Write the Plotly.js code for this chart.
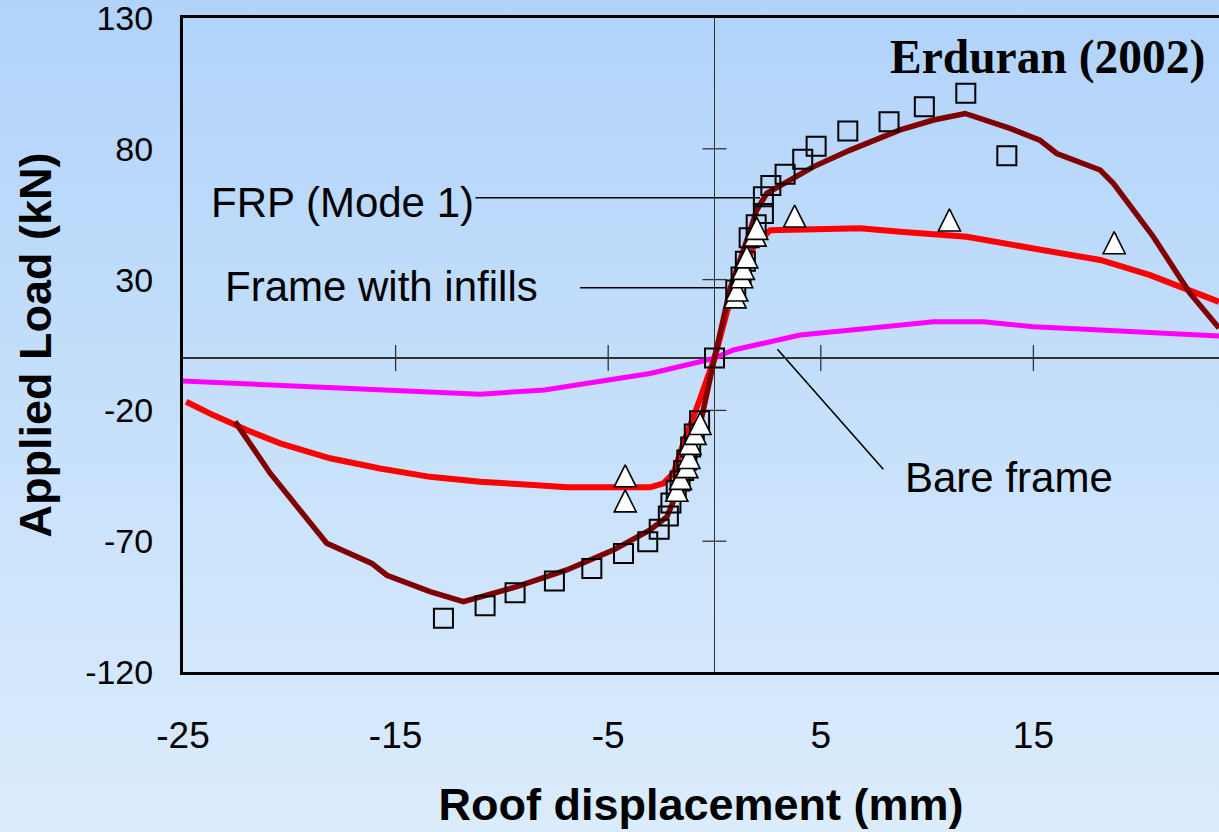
<!DOCTYPE html>
<html><head><meta charset="utf-8">
<script src="https://cdn.plot.ly/plotly-3.0.1.min.js"></script>
<style>
html,body{margin:0;padding:0;width:1219px;height:832px;overflow:hidden;
background:linear-gradient(to bottom,#b1d3fa 0%,#c6e0fb 50%,#dbecfc 100%);}
#chart{width:1219px;height:832px;}
</style></head><body><div id="chart"></div>
<script>
// FRP (Mode 1) analytical curve
const frpX = [-22.55, -20.9, -18.24, -16.12, -15.41, -13.38, -11.81, -9.3, -6.95, -4.76, -3.03, -2.24, -1.46, -0.6, 0, 0.75, 1.52, 1.99, 2.46, 3.4, 4.64, 6.38, 8.73, 10.3, 11.79, 13.9, 15.3, 16.1, 18.14, 18.76, 20.64, 22.37, 23.73];
const frpY = [-24.3, -44, -70.8, -78.5, -83, -89.3, -93.1, -87.4, -81, -73.4, -65.7, -60.7, -45.4, -22.6, 0, 27, 45, 56.6, 63, 67.4, 73.1, 79.5, 87.2, 91, 93.5, 87.8, 83.3, 78.2, 71.9, 66.8, 46.4, 24.7, 11.5];
// Frame with infills analytical curve
const infX = [-24.85, -23.58, -22, -20.43, -18.08, -15.73, -13.38, -11.03, -8.52, -6.95, -3.03, -2.4, -1.93, -1.46, -0.7, 0, 0.73, 1.83, 2.62, 4.97, 6.85, 8.73, 11.87, 15, 18.14, 20.49, 22.06, 23.73];
const infY = [-16.7, -21.8, -27.5, -32.6, -38.3, -42.2, -45.4, -47.3, -48.5, -49.4, -49.4, -47.9, -44, -32.6, -16, 0, 22, 42.5, 48.9, 49.2, 49.6, 48.3, 46.4, 41.9, 37.5, 31.7, 26.6, 21.5];
// Bare frame analytical curve
const bareX = [-25, -20.43, -15.73, -11.03, -8, -5.38, -3.03, -0.68, 0, 0.89, 1.67, 4.03, 7.16, 9.67, 10.3, 12.65, 15, 18.14, 21.27, 23.73];
const bareY = [-8.8, -10.3, -12.2, -13.8, -12.2, -9, -5.9, -1.4, 0, 3.1, 4.5, 8.8, 11.3, 13.0, 13.9, 13.9, 12, 10.7, 9.2, 8.4];
// Experimental points - FRP (squares)
const sqX = [-12.75, -10.79, -9.38, -7.53, -5.77, -4.28, -3.14, -2.6, -2.17, -2.05, -1.8, -1.62, -1.45, -1.3, -1.12, -0.95, -0.7, 0, 1.0, 1.25, 1.45, 1.63, 1.96, 2.3, 2.3, 2.65, 3.32, 4.15, 4.78, 6.27, 8.21, 9.87, 11.82, 13.75];
const sqY = [-99.5, -94.7, -89.7, -85.2, -80.4, -74.7, -70.2, -65.4, -60.4, -55.4, -50.5, -47, -43, -39, -34, -29, -24, 0, 26, 31, 37, 46, 51, 55.3, 61.7, 66, 70.3, 76, 81, 86.8, 90.3, 96.1, 101.2, 77.3];
// Experimental points - infilled frame (triangles)
const triX = [-4.2, -4.2, -1.77, -1.6, -1.3, -1.2, -1.15, -0.91, -0.68, 0.97, 1.05, 1.28, 1.36, 1.52, 1.91, 1.99, 3.77, 11.05, 18.8];
const triY = [-45, -54.6, -50.5, -46, -41.5, -38, -32.6, -28.8, -25, 23.4, 26, 31.1, 34.3, 38.7, 47, 49.6, 54.3, 52.8, 44.1];

const xTickVals = [-25, -15, -5, 5, 15];
const yTickVals = [-120, -70, -20, 30, 80, 130];
const xInnerTicks = [-15, -5, 5, 15];
const yInnerTicks = [-70, -20, 30, 80];

const labels = [
  {text: 'FRP (Mode 1)', x: -11.2, y: 59.5, xanchor: 'right', lx0: -11.24, ly0: 61.3, lx1: 2.14, ly1: 61.3},
  {text: 'Frame with infills', x: -8.2, y: 27.5, xanchor: 'right', lx0: -6.32, ly0: 26.9, lx1: 0.5, ly1: 26.9},
  {text: 'Bare frame', x: 8.85, y: -45.5, xanchor: 'left', lx0: 2.96, ly0: 3.4, lx1: 7.94, ly1: -42.5}
];

const font = 'Liberation Sans, Arial, Helvetica, sans-serif';
const tickColor = '#333333';

const traces = [
  {x: bareX, y: bareY, mode: 'lines', line: {color: '#ff00ff', width: 5}, name: 'Bare frame'},
  {x: infX, y: infY, mode: 'lines', line: {color: '#ff0000', width: 6}, name: 'Frame with infills'},
  {x: frpX, y: frpY, mode: 'lines', line: {color: '#800000', width: 5.5}, name: 'FRP (Mode 1)'},
  {x: sqX, y: sqY, mode: 'markers', name: 'FRP test',
   marker: {symbol: 'square-open', size: 19, color: '#000000', line: {color: '#000000', width: 2}}},
  {x: triX, y: triY, mode: 'markers', name: 'Infill test',
   marker: {symbol: 'arrow-down', angle: 180, standoff: 11, size: 22, color: '#ffffff', line: {color: '#000000', width: 1.6}}}
];

const shapes = [];
xInnerTicks.forEach(t => shapes.push({type: 'line', xref: 'x', yref: 'y', x0: t, x1: t,
  ysizemode: 'pixel', yanchor: 0, y0: -13, y1: 13, layer: 'below', line: {color: tickColor, width: 1.3}}));
yInnerTicks.forEach(t => shapes.push({type: 'line', xref: 'x', yref: 'y', y0: t, y1: t,
  xsizemode: 'pixel', xanchor: 0, x0: -12, x1: 12, layer: 'below', line: {color: tickColor, width: 1.3}}));
labels.forEach(l => shapes.push({type: 'line', xref: 'x', yref: 'y', x0: l.lx0, y0: l.ly0, x1: l.lx1, y1: l.ly1,
  layer: 'below', line: {color: '#000000', width: 1.6}}));

const annotations = labels.map(l => ({text: l.text, x: l.x, y: l.y, xref: 'x', yref: 'y',
  xanchor: l.xanchor, yanchor: 'middle', showarrow: false, font: {family: font, size: 42, color: '#000'}}));
annotations.push({text: '<b>Erduran (2002)</b>', x: 23.15, y: 115, xref: 'x', yref: 'y', xanchor: 'right', yanchor: 'middle',
  showarrow: false, font: {family: 'Liberation Serif, Times New Roman, serif', size: 47.5, color: '#000'}});

const layout = {
  width: 1219, height: 832,
  margin: {l: 183, r: 0, t: 18, b: 160, pad: 0},
  paper_bgcolor: 'rgba(0,0,0,0)', plot_bgcolor: 'rgba(0,0,0,0)',
  showlegend: false,
  font: {family: font, color: '#000'},
  xaxis: {
    range: [-25, 23.73], tickvals: xTickVals, ticktext: xTickVals.map(String),
    ticks: 'outside', ticklen: 29, tickcolor: 'rgba(0,0,0,0)',
    tickfont: {family: font, size: 37, color: '#000'}, ticklabeloverflow: 'allow',
    showline: true, mirror: true, linecolor: '#000', linewidth: 3,
    showgrid: false, zeroline: true, zerolinecolor: tickColor, zerolinewidth: 1.3,
    automargin: false, fixedrange: true,
    title: {text: '<b>Roof displacement (mm)</b>', font: {family: font, size: 45, color: '#000'}, standoff: 34}
  },
  yaxis: {
    range: [-120, 130], tickvals: yTickVals, ticktext: yTickVals.map(String),
    ticks: 'outside', ticklen: 20, tickcolor: 'rgba(0,0,0,0)',
    tickfont: {family: font, size: 34, color: '#000'}, ticklabeloverflow: 'allow',
    showline: true, mirror: false, linecolor: '#000', linewidth: 3,
    showgrid: false, zeroline: true, zerolinecolor: tickColor, zerolinewidth: 1.3,
    automargin: false, fixedrange: true,
    title: {text: '<b>Applied Load (kN)</b>', font: {family: font, size: 45, color: '#000'}, standoff: 20}
  },
  shapes: shapes,
  annotations: annotations
};

Plotly.newPlot('chart', traces, layout, {displayModeBar: false, staticPlot: true});
</script></body></html>
